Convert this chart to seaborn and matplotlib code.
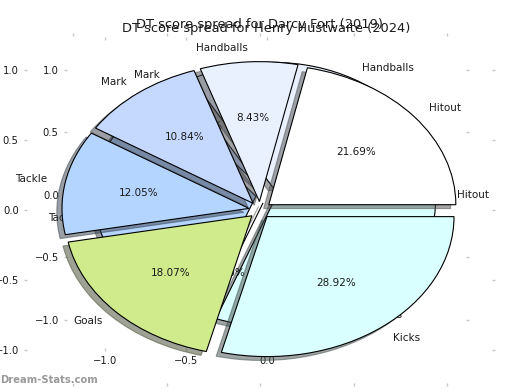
import matplotlib
matplotlib.use("Agg")
import matplotlib.pyplot as plt
import seaborn as sns

sns.set_style("white")
plt.rcParams['font.family'] = ['DejaVu Sans']

# ---- data ----
categories = ["Hitout", "Handballs", "Mark", "Tackle", "Goals", "Kicks"]
darcy_values = [21.69, 8.43, 10.84, 12.05, 18.07, 28.92]      # Darcy Fort (2019)
henry_values = [0.0, 33.33, 2.56, 33.33, 0.0, 30.78]          # Henry Hustwaite (2024)
tick_values = [-1.0, -0.5, 0.0, 0.5, 1.0]
back_xtick_values = [-1.0, -0.5, 0.0]
title_darcy = "DT score spread for Darcy Fort (2019)"
title_henry = "DT score spread for Henry Hustwaite (2024)"

colors = ["#ffffff", "#e9f1ff", "#c5d9ff", "#b4d5ff", "#d0eb8b", "#d9ffff"]

fig = plt.figure(figsize=(5.2, 3.9), dpi=100)

ax_back = fig.add_axes([67/520, (390-348)/390, 399/520, 308/390])
ax_front = fig.add_axes([27/520, (390-383)/390, 465/520, 347/390])
ax_front.set_facecolor("none")
ax_back.set_facecolor("white")

def draw(ax, vals, expl, title, xlim, ylim, xticks):
    ax.pie(vals, labels=categories, colors=colors, autopct="%.2f%%",
           explode=[expl]*len(vals), shadow=True, startangle=0, frame=True,
           wedgeprops=dict(edgecolor="black", linewidth=0.8),
           textprops=dict(fontsize=7.5, color="#1a1a1a"))
    ax.set_aspect("auto")
    ax.set_xlim(*xlim)
    ax.set_ylim(*ylim)
    ax.set_xticks(xticks)
    ax.set_yticks(tick_values)
    ax.tick_params(axis="both", which="both", direction="out", length=2.5,
                   width=1.0, color="#c8c8c8", labelsize=7.2,
                   labelcolor="#1a1a1a", top=True, right=True,
                   bottom=True, left=True, labeltop=False, labelright=False)
    for s in ax.spines.values():
        s.set_visible(False)
    ax.set_title(title, fontsize=9.4, color="#1a1a1a")

draw(ax_back, henry_values, 0.07, title_henry, (-1.235, 1.228), (-1.228, 1.24),
     back_xtick_values)
draw(ax_front, darcy_values, 0.06, title_darcy, (-1.246, 1.24), (-1.236, 1.243),
     tick_values)

fig.text(0.0, 10/390, "Dream-Stats.com", color="#9a9a9a", fontsize=7.2,
         fontweight="bold", ha="left", va="center")

fig.savefig("out.png", dpi=100)
